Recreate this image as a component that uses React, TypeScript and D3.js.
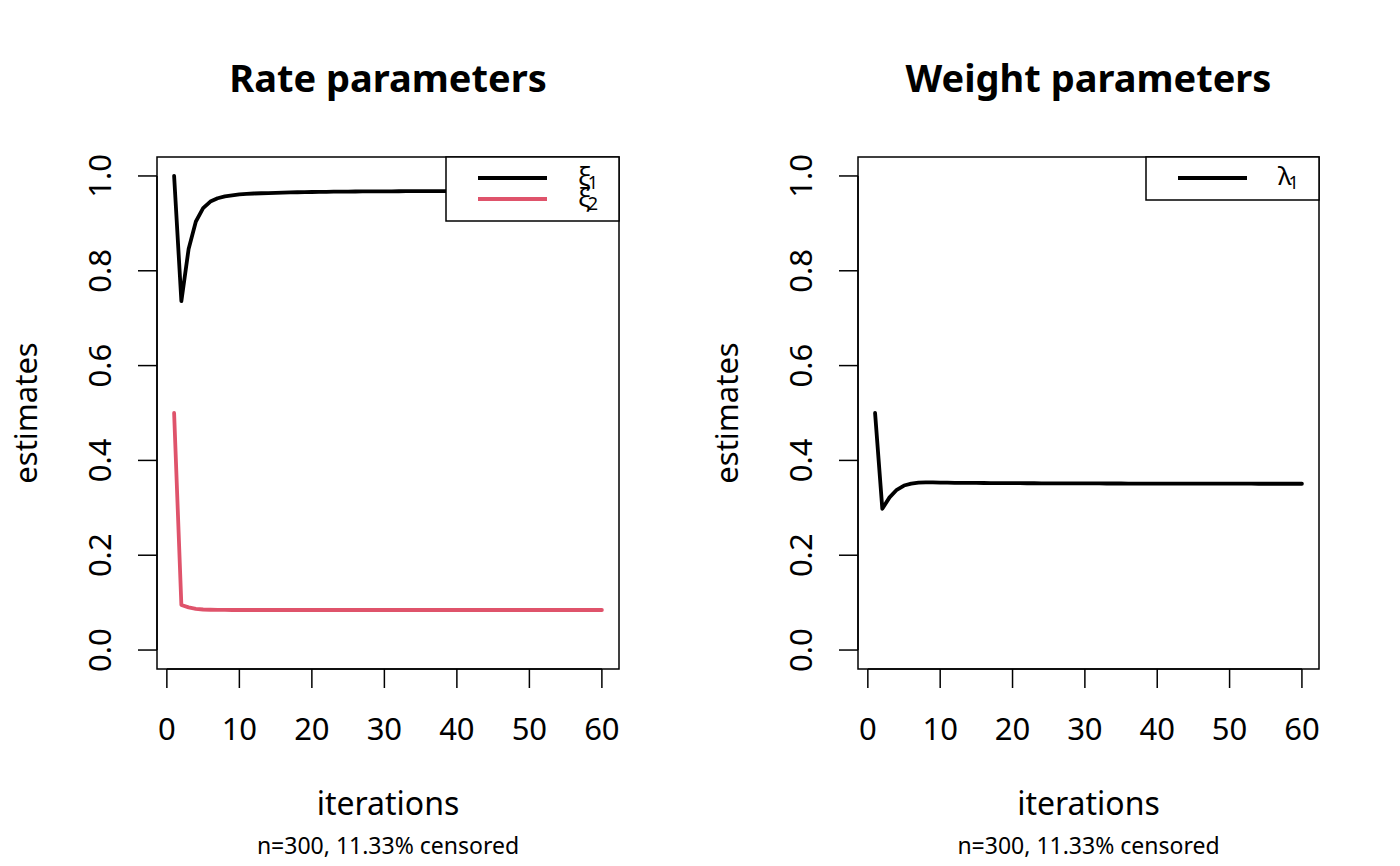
import React from 'react';
import * as d3 from 'd3';

// iteration index 1..60
const iterations = d3.range(1, 61);

// Rate parameter estimates per iteration
const xi1 = [
  1.000, 0.736, 0.846, 0.904, 0.932, 0.946, 0.953, 0.957, 0.959, 0.961,
  0.962, 0.963, 0.9635, 0.964, 0.9645, 0.965, 0.9653, 0.9656, 0.966, 0.9662,
  0.9664, 0.9666, 0.9668, 0.967, 0.9671, 0.9672, 0.9673, 0.9674, 0.9675, 0.9676,
  0.9677, 0.9678, 0.9679, 0.968, 0.968, 0.9681, 0.9681, 0.9682, 0.9682, 0.9683,
  0.9683, 0.9684, 0.9684, 0.9685, 0.9685, 0.9685, 0.9686, 0.9686, 0.9686, 0.9687,
  0.9687, 0.9687, 0.9688, 0.9688, 0.9688, 0.9688, 0.9689, 0.9689, 0.9689, 0.969,
];
const xi2 = [
  0.500, 0.095, 0.090, 0.087, 0.0855, 0.085, 0.0847, 0.0846, 0.0845, 0.0845,
  0.0845, 0.0845, 0.0845, 0.0845, 0.0845, 0.0845, 0.0845, 0.0845, 0.0845, 0.0845,
  0.0845, 0.0845, 0.0845, 0.0845, 0.0845, 0.0845, 0.0845, 0.0845, 0.0845, 0.0845,
  0.0845, 0.0845, 0.0845, 0.0845, 0.0845, 0.0845, 0.0845, 0.0845, 0.0845, 0.0845,
  0.0845, 0.0845, 0.0845, 0.0845, 0.0845, 0.0845, 0.0845, 0.0845, 0.0845, 0.0845,
  0.0845, 0.0845, 0.0845, 0.0845, 0.0845, 0.0845, 0.0845, 0.0845, 0.0845, 0.0845,
];

// Weight parameter estimates per iteration
const lambda1 = [
  0.500, 0.298, 0.322, 0.338, 0.347, 0.351, 0.353, 0.3535, 0.3535, 0.353,
  0.353, 0.3528, 0.3526, 0.3525, 0.3524, 0.3523, 0.3522, 0.3521, 0.352, 0.352,
  0.3519, 0.3518, 0.3518, 0.3517, 0.3517, 0.3516, 0.3516, 0.3515, 0.3515, 0.3514,
  0.3514, 0.3514, 0.3513, 0.3513, 0.3513, 0.3512, 0.3512, 0.3512, 0.3511, 0.3511,
  0.3511, 0.3511, 0.351, 0.351, 0.351, 0.351, 0.351, 0.3509, 0.3509, 0.3509,
  0.3509, 0.3509, 0.3509, 0.3508, 0.3508, 0.3508, 0.3508, 0.3508, 0.3508, 0.3508,
];

const xTicks = [0, 10, 20, 30, 40, 50, 60];
const yTicks = [0, 0.2, 0.4, 0.6, 0.8, 1.0];

const FONT = '"Noto Sans", "Open Sans", sans-serif';
const RED = '#DF536B';

interface Series {
  label: string;
  values: number[];
  color: string;
}

interface PanelProps {
  left: number;
  right: number;
  title: string;
  series: Series[];
  legendWidth: number;
  sym: string;
}

const top = 157;
const bottom = 669;

const Panel: React.FC<PanelProps> = ({ left, right, title, series, legendWidth, sym }) => {
  // R style 4% axis extension
  const xScale = d3.scaleLinear().domain([1 - 0.04 * 59, 60 + 0.04 * 59]).range([left, right]);
  const yScale = d3.scaleLinear().domain([-0.04, 1.04]).range([bottom, top]);
  const line = d3.line<number>()
    .x((_, i) => xScale(iterations[i]))
    .y(d => yScale(d));

  const cx = (left + right) / 2;
  const cy = (top + bottom) / 2;
  const legendH = 22 + series.length * 21;
  const lx = right - legendWidth;

  return (
    <g>
      <text x={cx} y={92} textAnchor="middle" fontWeight="bold" fontSize={38}>{title}</text>
      {series.map(s => (
        <path key={s.label} d={line(s.values) ?? ''} fill="none" stroke={s.color}
          strokeWidth={3.8} strokeLinejoin="round" strokeLinecap="round" />
      ))}
      <rect x={left} y={top} width={right - left} height={bottom - top} fill="none" stroke="#000" strokeWidth={1.5} />

      {/* x axis */}
      <line x1={xScale(xTicks[0])} x2={xScale(xTicks[xTicks.length - 1])} y1={bottom} y2={bottom} stroke="#000" strokeWidth={1.5} />
      {xTicks.map(t => (
        <g key={t}>
          <line x1={xScale(t)} x2={xScale(t)} y1={bottom} y2={bottom + 19} stroke="#000" strokeWidth={1.5} />
          <text x={xScale(t)} y={740} textAnchor="middle" fontSize={31}>{t}</text>
        </g>
      ))}

      {/* y axis */}
      <line x1={left} x2={left} y1={yScale(yTicks[0])} y2={yScale(yTicks[yTicks.length - 1])} stroke="#000" strokeWidth={1.5} />
      {yTicks.map(t => (
        <g key={t}>
          <line x1={left} x2={left - 19} y1={yScale(t)} y2={yScale(t)} stroke="#000" strokeWidth={1.5} />
          <text transform={`translate(${left - 46},${yScale(t)}) rotate(-90)`} textAnchor="middle" fontSize={31}>{t.toFixed(1)}</text>
        </g>
      ))}

      <text x={cx} y={815} textAnchor="middle" fontSize={32}>iterations</text>
      <text x={cx} y={854} textAnchor="middle" fontSize={23}>n=300, 11.33% censored</text>
      <text transform={`translate(${left - 120},${cy}) rotate(-90)`} textAnchor="middle" fontSize={31}>estimates</text>

      {/* legend */}
      <rect x={lx} y={top} width={legendWidth} height={legendH} fill="#fff" stroke="#000" strokeWidth={1.5} />
      {series.map((s, i) => (
        <g key={s.label}>
          <line x1={lx + 32} x2={lx + 101} y1={top + 21 + i * 21} y2={top + 21 + i * 21} stroke={s.color} strokeWidth={3.8} />
          <text x={lx + 132} y={top + 28 + i * 21} fontSize={26}>
            {sym}
            <tspan dx={-3} dy={4} fontSize={18}>{s.label}</tspan>
          </text>
        </g>
      ))}
    </g>
  );
};

const App: React.FC = () => {
  return (
    <svg width={1400} height={866} style={{ display: 'block', position: 'absolute', left: 0, top: 0, background: '#fff' }}
      fontFamily={FONT}>
      <rect width={1400} height={866} fill="#fff" />
      <Panel left={157} right={619} title="Rate parameters" legendWidth={173} sym="ξ"
        series={[
          { label: '1', values: xi1, color: '#000' },
          { label: '2', values: xi2, color: RED },
        ]} />
      <Panel left={858} right={1319} title="Weight parameters" legendWidth={173} sym="λ"
        series={[{ label: '1', values: lambda1, color: '#000' }]} />
    </svg>
  );
};

export default App;
